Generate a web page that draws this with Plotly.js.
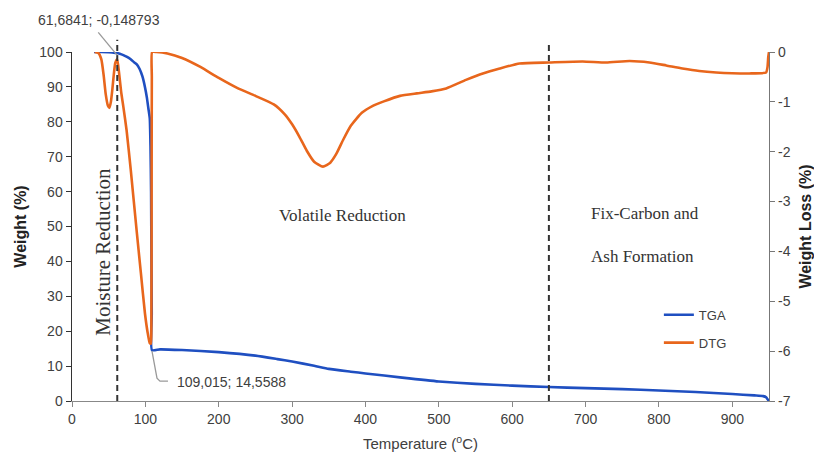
<!DOCTYPE html>
<html>
<head>
<meta charset="utf-8">
<script src="https://cdn.plot.ly/plotly-3.0.1.min.js"></script>
<style>html,body{margin:0;padding:0;background:#fff;}#chart{width:814px;height:458px;}</style>
</head>
<body>
<div id="chart"></div>
<script>
// TGA: temperature (°C) vs weight (%)
const tgaTemp = [30, 40, 50, 55, 61.6841, 65, 70, 75, 80, 85, 88, 92, 96, 99.4, 102, 104, 106, 107, 107.8, 108.3, 108.7, 109.015, 120, 150, 200, 250, 280, 300, 330, 350, 380, 400, 450, 500, 550, 600, 650, 700, 750, 800, 850, 900, 930, 942, 946, 948, 950];
const tgaWeight = [100, 100, 99.95, 99.85, 99.7, 99.5, 99.1, 98.6, 97.9, 97, 96.5, 95.2, 93, 90, 87, 84, 81, 73, 60, 40, 25, 14.5588, 14.8, 14.6, 14.0, 13.0, 12.0, 11.3, 10.1, 9.2, 8.4, 7.9, 6.7, 5.6, 4.9, 4.4, 4.0, 3.7, 3.4, 3.0, 2.6, 2.0, 1.6, 1.4, 1.1, 0.5, 0];

// DTG: temperature (°C) vs weight loss (%)
const dtgTemp = [31, 36, 40, 43, 46, 49, 51, 53, 55, 57, 59, 61.6841, 64, 67, 70, 74.4, 80, 88, 94, 99.4, 103, 106, 107.5, 108.2, 108.5, 108.8, 109.2, 115, 130, 150, 175, 200, 225, 250, 275, 290, 300, 310, 320, 330, 342, 352, 360, 370, 380, 395, 410, 425, 447, 470, 490, 510, 537, 560, 583, 610, 650, 696, 728, 760, 787, 810, 832, 855, 878, 900, 923, 946, 948, 949, 950];
const dtgLoss = [0, -0.02, -0.15, -0.45, -0.85, -1.08, -1.12, -1.0, -0.75, -0.45, -0.22, -0.148793, -0.4, -0.8, -1.1, -1.57, -2.35, -3.57, -4.45, -5.24, -5.62, -5.84, -5.85, -5.5, -3.0, -0.5, 0, 0, -0.03, -0.12, -0.3, -0.52, -0.72, -0.88, -1.05, -1.25, -1.45, -1.7, -1.98, -2.2, -2.3, -2.22, -2.05, -1.75, -1.48, -1.22, -1.08, -0.99, -0.88, -0.83, -0.79, -0.73, -0.56, -0.43, -0.33, -0.23, -0.21, -0.19, -0.21, -0.18, -0.21, -0.27, -0.33, -0.38, -0.41, -0.425, -0.43, -0.41, -0.3, -0.1, 0];

const xTicks = [0, 100, 200, 300, 400, 500, 600, 700, 800, 900];
const y2Ticks = [-7, -6, -5, -4, -3, -2, -1, 0];
const y2TickText = ['-7', '-6', '-5', '-4', '-3', '-2', '-1', '0'];
const stageLines = [61.6841, 650];
const peakPoint = {x: 61.6841, y: -0.148793, label: '61,6841; -0,148793'};
const endPoint = {x: 109.015, y: 14.5588, label: '109,015; 14,5588'};

const blue = '#1f4fc1';
const orange = '#e8661c';
const txt = '#404040';
const sans = 'Liberation Sans, Arial, sans-serif';
const serif = 'Liberation Serif, Times New Roman, serif';

const traces = [
  {x: tgaTemp, y: tgaWeight, name: 'TGA', type: 'scatter', mode: 'lines',
   line: {color: blue, width: 2.6, shape: 'spline', smoothing: 0.5}, yaxis: 'y', legendgroup: 'a'},
  {x: dtgTemp, y: dtgLoss, name: 'DTG', type: 'scatter', mode: 'lines',
   line: {color: orange, width: 2.6, shape: 'spline', smoothing: 0.5}, yaxis: 'y2', legendgroup: 'b'}
];

// position of the DTG peak as a fraction of the plot height (range -7..0)
const peakPaperY = (peakPoint.y + 7) / 7;

const layout = {
  width: 814, height: 458,
  margin: {l: 72, r: 45, t: 52, b: 57},
  paper_bgcolor: '#fff', plot_bgcolor: '#fff',
  font: {family: sans, color: txt, size: 14},
  showlegend: true,
  legend: {x: 0.842, y: 0.29, xanchor: 'left', yanchor: 'top', bgcolor: 'rgba(0,0,0,0)',
           font: {size: 13, color: txt}, traceorder: 'grouped', tracegroupgap: 8},
  xaxis: {range: [0, 950], tickvals: xTicks, ticks: 'outside', ticklen: 5, tickcolor: '#888',
          showline: true, linecolor: '#888', linewidth: 1.3, showgrid: false, zeroline: false,
          tickfont: {size: 14, color: txt},
          title: {text: 'Temperature (<sup>o</sup>C)', font: {size: 15, color: txt}, standoff: 12}},
  yaxis: {range: [0, 100], dtick: 10, ticks: 'outside', ticklen: 5, tickcolor: '#333',
          showline: true, linecolor: '#333', linewidth: 1.5, showgrid: false, zeroline: false,
          tickfont: {size: 14, color: txt},
          title: {text: 'Weight (%)', font: {size: 16, color: '#222', weight: 'bold'}, standoff: 8}},
  yaxis2: {range: [-7, 0], tickvals: y2Ticks, ticktext: y2TickText, overlaying: 'y', side: 'right',
           ticks: 'outside', ticklen: 5,
           tickcolor: '#777', showline: true, linecolor: '#777', linewidth: 1.3, showgrid: false,
           zeroline: false, tickfont: {size: 14, color: txt},
           title: {text: 'Weight Loss (%)', font: {size: 16, color: '#222', weight: 'bold'}, standoff: 14}},
  shapes: [
    {type: 'line', xref: 'x', yref: 'paper', x0: stageLines[0], x1: stageLines[0], y0: 0, y1: 1.035,
     line: {color: '#333', width: 2, dash: '6px,4px'}},
    {type: 'line', xref: 'x', yref: 'paper', x0: stageLines[1], x1: stageLines[1], y0: 0, y1: 1.02,
     line: {color: '#333', width: 2, dash: '6px,4px'}},
    {type: 'path', xref: 'x', yref: 'paper', xsizemode: 'pixel', ysizemode: 'pixel',
     xanchor: peakPoint.x, yanchor: peakPaperY, path: 'M0,4 L-19,27',
     line: {color: '#999', width: 1.3}},
    {type: 'path', xref: 'x', yref: 'y', xsizemode: 'pixel', ysizemode: 'pixel',
     xanchor: endPoint.x, yanchor: endPoint.y, path: 'M0,-1 L5,-28 L8,-31 L16,-31',
     line: {color: '#999', width: 1.3}}
  ],
  annotations: [
    {x: 36.8, y: 1.092, xref: 'x', yref: 'paper', text: peakPoint.label, showarrow: false,
     font: {size: 14, color: txt}, xanchor: 'center', yanchor: 'middle'},
    {x: 217, y: 5.4, xref: 'x', yref: 'y', text: endPoint.label, showarrow: false,
     font: {size: 14, color: txt}, xanchor: 'center', yanchor: 'middle'},
    {x: 42, y: 42.7, xref: 'x', yref: 'y', text: 'Moisture Reduction', textangle: -90, showarrow: false,
     font: {family: serif, size: 21, color: '#333'}},
    {x: 369, y: 53.1, xref: 'x', yref: 'y', text: 'Volatile Reduction', showarrow: false,
     font: {family: serif, size: 17, color: '#333'}},
    {x: 705, y: 53.6, xref: 'x', yref: 'y', text: 'Fix-Carbon and', showarrow: false, xanchor: 'left',
     font: {family: serif, size: 17, color: '#333'}},
    {x: 705, y: 41.5, xref: 'x', yref: 'y', text: 'Ash Formation', showarrow: false, xanchor: 'left',
     font: {family: serif, size: 17, color: '#333'}}
  ]
};

Plotly.newPlot('chart', traces, layout, {displayModeBar: false, staticPlot: true});
</script>
</body>
</html>
